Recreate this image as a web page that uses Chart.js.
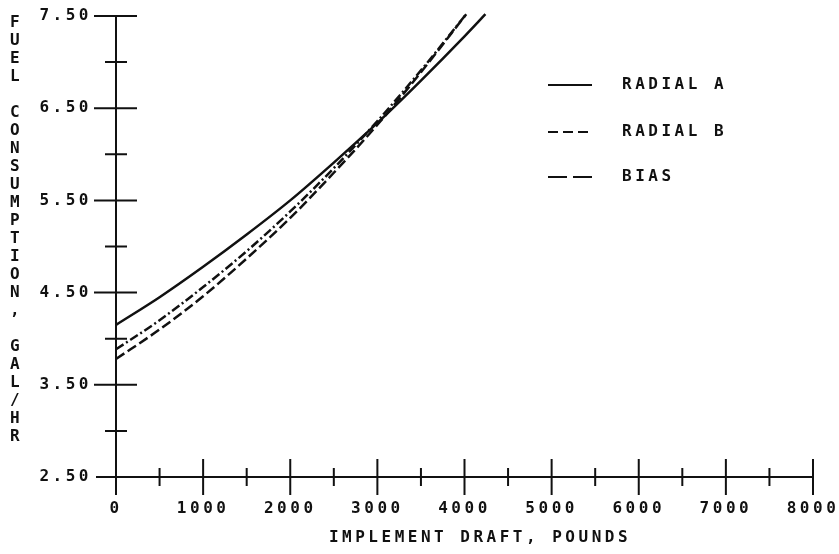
<!DOCTYPE html>
<html>
<head>
<meta charset="utf-8">
<script src="https://cdn.jsdelivr.net/npm/chart.js@4.4.0/dist/chart.umd.min.js"></script>
<style>
html,body{margin:0;padding:0;background:#fff;}
</style>
</head>
<body>
<canvas id="graph" width="839" height="554"></canvas>
<script>
// values//
var draftA=[0,500,1000,1500,2000,2500,3000,3500,4000,4240];
var radialA=[4.15,4.45,4.78,5.13,5.50,5.91,6.34,6.80,7.28,7.52];
var draftB=[0,500,1000,1500,2000,2500,3000,3500,4020];
var radialB=[3.885,4.20,4.56,4.95,5.38,5.85,6.36,6.91,7.52];
var draftBias=[0,500,1000,1500,2000,2500,3000,3500,4020];
var bias=[3.78,4.10,4.46,4.87,5.31,5.80,6.32,6.89,7.52];
var seriesNames=["RADIAL A","RADIAL B","BIAS"];
var yTitle="FUEL CONSUMPTION, GAL/HR";
var xTitle="IMPLEMENT DRAFT, POUNDS";

var ink="#111";
var plotFont="'DejaVu Sans Mono', monospace";
var spacing="3.5px";

function pts(xs,ys){
  var out=[];
  for (let i=0;i<xs.length;i++){ out.push({x:xs[i],y:ys[i]}); }
  return out;
}

//Draws the axes with ticks crossing the line, titles and legend//
const plotter = {
  id: "plotter",
  beforeLayout(chart){ chart.ctx.letterSpacing=spacing; },
  beforeDraw(chart){ chart.ctx.letterSpacing=spacing; },
  afterDraw(chart){
    var ctx=chart.ctx, xs=chart.scales.x, ys=chart.scales.y;
    var x0=xs.getPixelForValue(0), y0=ys.getPixelForValue(2.5);
    ctx.save();
    ctx.strokeStyle=ink; ctx.lineWidth=2; ctx.setLineDash([]);
    ctx.beginPath();
    ctx.moveTo(x0, ys.getPixelForValue(7.5)); ctx.lineTo(x0, y0+18);
    ctx.moveTo(x0-20, y0); ctx.lineTo(xs.getPixelForValue(8000), y0);
    ys.ticks.forEach(function(t){
      var y=ys.getPixelForValue(t.value);
      var major=t.label!=="";
      if (t.value===2.5) return;
      ctx.moveTo(x0-(major?22:11), y); ctx.lineTo(x0+(major?21:11), y);
    });
    xs.ticks.forEach(function(t){
      var x=xs.getPixelForValue(t.value);
      var major=t.label!=="";
      if (t.value===0) return;
      ctx.moveTo(x, y0-(major?18:9)); ctx.lineTo(x, y0+(major?18:9));
    });
    ctx.stroke();

    ctx.fillStyle=ink;
    ctx.letterSpacing=spacing;
    ctx.font="bold 16px "+plotFont;
    ctx.textAlign="center"; ctx.textBaseline="middle";
    for (let i=0;i<yTitle.length;i++){
      ctx.fillText(yTitle[i], 16.5, 23+i*18);
    }
    ctx.fillText(xTitle, 480, 538);

    // legend//
    var rows=[85,132,177];
    var legendDash=[[],[10,5],[19,6]];
    ctx.lineWidth=2;
    ctx.textAlign="left";
    for (let i=0;i<seriesNames.length;i++){
      ctx.setLineDash(legendDash[i]);
      ctx.beginPath(); ctx.moveTo(548,rows[i]); ctx.lineTo(592,rows[i]); ctx.stroke();
      ctx.fillText(seriesNames[i], 622, rows[i]);
    }
    ctx.restore();
  }
};

const graph = new Chart("graph", {
  type: "line",
  data: {
    datasets: [{
      label: seriesNames[0],
      data: pts(draftA,radialA),
      borderColor: ink, borderWidth: 2.5, borderDash: []
    },{
      label: seriesNames[1],
      data: pts(draftB,radialB),
      borderColor: ink, borderWidth: 2.5, borderDash: [9,3,2,3]
    },{
      label: seriesNames[2],
      data: pts(draftBias,bias),
      borderColor: ink, borderWidth: 2.5, borderDash: [10,4]
    }]
  },
  options:{
    responsive: false,
    animation: false,
    clip: false,
    elements: { point: { radius: 0 }, line: { cubicInterpolationMode: "monotone", fill: false } },
    layout: { padding: { top: 16, right: 26, left: 0, bottom: 0 } },
    plugins: { legend: { display: false }, tooltip: { enabled: false } },
    scales: {
      x: {
        type: "linear", min: 0, max: 8000,
        grid: { display: false, drawTicks: false },
        border: { display: false },
        afterFit: function(s){ s.height = 77; s.paddingLeft = 0; s.paddingRight = 0; s.paddingTop = 0; s.paddingBottom = 0; },
        ticks: {
          stepSize: 500, autoSkip: false, maxRotation: 0, padding: 22, color: ink,
          font: { family: plotFont, size: 16, weight: "bold" },
          callback: function(v){ return v%1000===0 ? String(v) : ""; }
        }
      },
      y: {
        min: 2.5, max: 7.5,
        grid: { display: false, drawTicks: false },
        border: { display: false },
        afterFit: function(s){ s.width = 116; s.paddingLeft = 0; s.paddingRight = 0; s.paddingTop = 0; s.paddingBottom = 0; },
        ticks: {
          stepSize: 0.5, autoSkip: false, padding: 24, color: ink,
          font: { family: plotFont, size: 16, weight: "bold" },
          callback: function(v){ return Math.abs((v-2.5)%1)<1e-6 ? v.toFixed(2) : ""; }
        }
      }
    }
  },
  plugins: [plotter]
});
</script>
</body>
</html>
